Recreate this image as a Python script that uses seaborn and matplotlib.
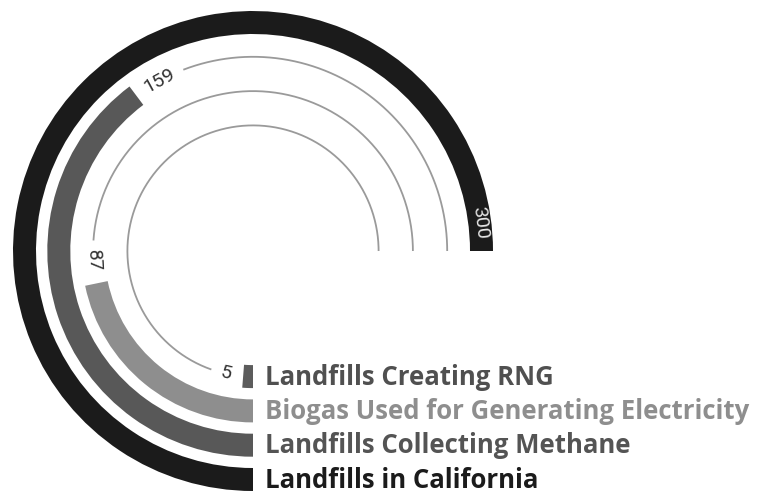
import numpy as np
import matplotlib
matplotlib.use("Agg")
import matplotlib.pyplot as plt
import seaborn as sns

# Rings from the outside in
categories = [
    "Landfills in California",
    "Landfills Collecting Methane",
    "Biogas Used for Generating Electricity",
    "Landfills Creating RNG",
]
values = [300, 159, 87, 5]
value_labels = ["300", "159", "87", "5"]
bar_colors = ["#1b1b1b", "#585858", "#8e8e8e", "#5c5c5c"]
text_colors = ["#1b1b1b", "#545454", "#8e8e8e", "#505050"]
full_circle = 400  # value that would close a complete ring

sns.set_theme(style="white")
plt.rcParams["font.family"] = ["Open Sans", "DejaVu Sans"]

W, H = 757, 493
fig = plt.figure(figsize=(W / 100, H / 100), dpi=100)
cx, cy, R = 253, 242, 245  # ring centre and radius in pixels (from bottom-left)
ax = fig.add_axes([(cx - R) / W, (cy - R) / H, 2 * R / W, 2 * R / H], projection="polar")
ax.set_theta_zero_location("S")
ax.set_theta_direction(-1)
ax.set_ylim(0, R)
ax.set_axis_off()

outer_center = 228.5
step = 34.3
thick = 23
track_color = "#9a9a9a"
char_half = 5.3  # half width of one digit, px


def to_theta(v):
    return 2 * np.pi * v / full_circle


def tangent_rotation(theta):
    phi = -90.0 - np.degrees(theta)
    rot = (phi - 90.0) % 360.0
    if rot > 180:
        rot -= 360
    if rot > 90:
        rot -= 180
    elif rot < -90:
        rot += 180
    return rot


track_end = to_theta(max(values))

for i, (cat, v, lab, bc, tc) in enumerate(
    zip(categories, values, value_labels, bar_colors, text_colors)
):
    rc = outer_center - i * step
    span = to_theta(v)
    ax.bar(0, thick, width=span, bottom=rc - thick / 2, align="edge",
           color=bc, edgecolor="none", linewidth=0)

    if i == 0:
        # value sits inside the end of the longest bar
        t_lab = span - 7 / 180 * np.pi
        ax.text(t_lab, rc, lab, rotation=tangent_rotation(t_lab), rotation_mode="anchor",
                ha="center", va="center", fontsize=14, color="#e6e6e6",
                family=["Roboto", "DejaVu Sans"])
    else:
        half = char_half * len(lab)
        t_lab = span + (12 + half) / rc
        ax.text(t_lab, rc, lab, rotation=tangent_rotation(t_lab), rotation_mode="anchor",
                ha="center", va="center", fontsize=14, color="#333333",
                family=["Roboto", "DejaVu Sans"])
        t_start = t_lab + (half + 10) / rc
        th = np.linspace(t_start, track_end, 300)
        ax.plot(th, np.full_like(th, rc), color=track_color, lw=1.3, solid_capstyle="butt")

    ax.annotate(cat, xy=(0, rc), xytext=(12, -8), textcoords="offset pixels",
                ha="left", va="baseline", fontsize=18.55, fontweight="bold",
                color=tc, annotation_clip=False)

fig.savefig("out.png", dpi=100, facecolor="white")
